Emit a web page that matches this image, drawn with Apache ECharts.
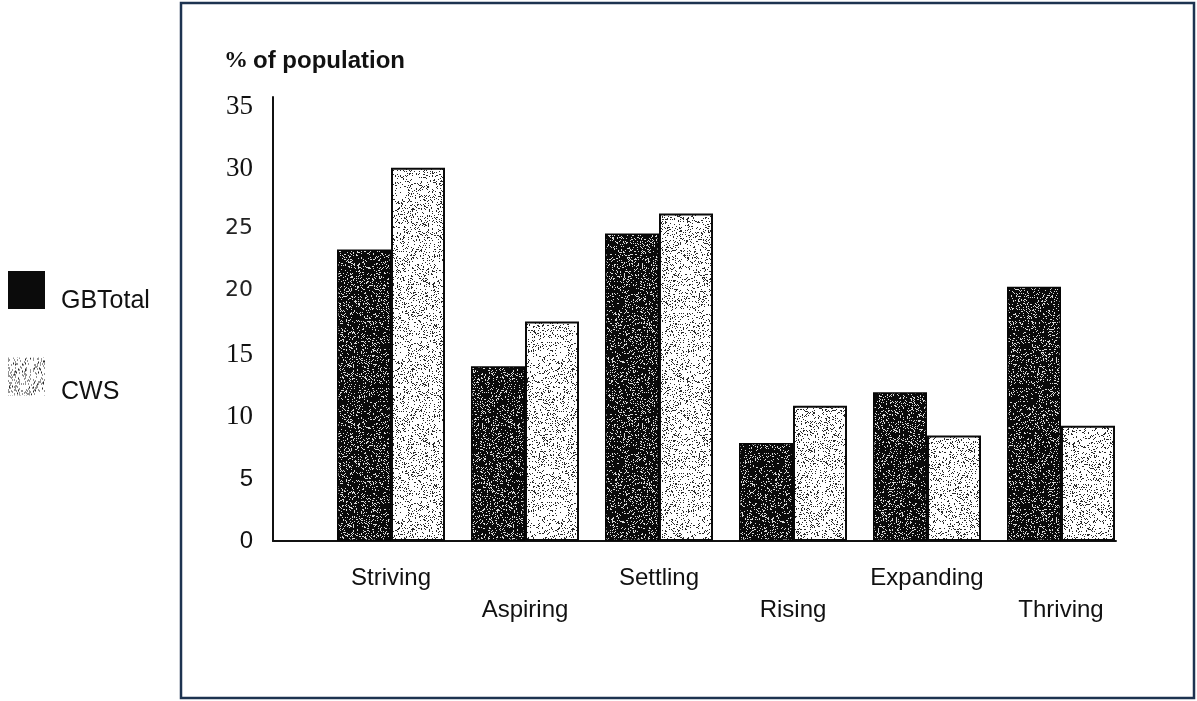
<!DOCTYPE html>
<html>
<head>
<meta charset="utf-8">
<script src="https://cdn.jsdelivr.net/npm/echarts@6/dist/echarts.min.js"></script>
<style>
  html, body { margin: 0; padding: 0; background: #ffffff; }
  #chart { width: 1197px; height: 701px; }
</style>
</head>
<body>
<div id="chart"></div>
<script>
// Population share by group, GB total vs CWS
const categories = ['Striving', 'Aspiring', 'Settling', 'Rising', 'Expanding', 'Thriving'];
const gbTotal = [23.5, 14.1, 24.8, 7.9, 12.0, 20.5];
const cws = [30.1, 17.7, 26.4, 10.9, 8.5, 9.3];
const seriesNames = ['GBTotal', 'CWS'];
const yMax = 35.8;
const yStep = 5;

// Stippled fills drawn on small canvases (deterministic generator)
function makeStipple(bg, dot, density, seed) {
  const c = document.createElement('canvas');
  c.width = 160; c.height = 160;
  const ctx = c.getContext('2d');
  ctx.fillStyle = bg;
  ctx.fillRect(0, 0, c.width, c.height);
  let s = seed;
  const rnd = () => { s = (s * 1103515245 + 12345) & 0x7fffffff; return s / 0x7fffffff; };
  ctx.fillStyle = dot;
  for (let y = 0; y < c.height; y++) {
    for (let x = 0; x < c.width; x++) {
      if (rnd() < density) ctx.fillRect(x, y, 1, 1);
    }
  }
  return c;
}
const darkFill = { image: makeStipple('#0a0a0a', '#d8d8d8', 0.17, 7), repeat: 'repeat' };
const lightFill = { image: makeStipple('#ffffff', '#2a2a2a', 0.16, 19), repeat: 'repeat' };

// Tick labels come in a mix of faces
const tickStyle = {
  '35': 's', '30': 's', '15': 's', '10': 's',
  '25': 'g', '20': 'g', '5': 'n', '0': 'n'
};

const legendFont = { fontFamily: 'Liberation Sans', fontSize: 25, color: '#111' };

const chart = echarts.init(document.getElementById('chart'));
chart.setOption({
  backgroundColor: '#ffffff',
  animation: false,
  title: {
    left: 219, top: 44,
    text: '{p|%} {b|of population}',
    textStyle: {
      rich: {
        p: { fontFamily: 'Liberation Serif', fontSize: 24, color: '#111' },
        b: { fontFamily: 'Liberation Sans', fontSize: 24, fontWeight: 'bold', color: '#111' }
      }
    }
  },
  legend: {
    orient: 'vertical',
    left: 3, top: 266,
    itemWidth: 37, itemHeight: 38,
    itemGap: 44,
    icon: 'rect',
    data: [
      { name: seriesNames[0], itemStyle: { color: '#0b0b0b', borderWidth: 0 } },
      { name: seriesNames[1], itemStyle: { color: lightFill, borderWidth: 0 } }
    ],
    formatter: name => (name === seriesNames[0] ? '{a|' : '{c|') + name + '}',
    textStyle: {
      fontFamily: 'Liberation Sans', fontSize: 25, color: '#111',
      rich: {
        a: Object.assign({ padding: [22, 0, 0, 11] }, legendFont),
        c: Object.assign({ padding: [32, 0, 0, 11] }, legendFont)
      }
    }
  },
  graphic: [{
    type: 'rect',
    shape: { x: 181, y: 3, width: 1013, height: 695 },
    style: { fill: 'none', stroke: '#1d3350', lineWidth: 2.5 },
    silent: true
  }],
  grid: [
    { left: 273, right: 81, top: 97, bottom: 160 },
    { left: 324, right: 69, top: 97, bottom: 160 }
  ],
  xAxis: [
    {
      gridIndex: 0, type: 'value', min: 0, max: 1,
      axisLine: { show: true, lineStyle: { color: '#111', width: 2 } },
      axisTick: { show: false }, axisLabel: { show: false }, splitLine: { show: false }
    },
    {
      gridIndex: 1, type: 'category', data: categories,
      axisLine: { show: false }, axisTick: { show: false }, splitLine: { show: false },
      axisLabel: {
        interval: 0, margin: 21,
        fontFamily: 'Liberation Sans', fontSize: 24, color: '#111',
        lineHeight: 32, verticalAlign: 'top',
        formatter: (v, i) => (i % 2 ? '\n' + v : v)
      }
    }
  ],
  yAxis: [
    {
      gridIndex: 0, type: 'value', min: 0, max: yMax, interval: yStep,
      axisLine: { show: true, lineStyle: { color: '#111', width: 2 } },
      axisTick: { show: false }, splitLine: { show: false },
      axisLabel: {
        showMaxLabel: false, margin: 20, color: '#111',
        formatter: v => '{' + (tickStyle[String(v)] || 'n') + '|' + v + '}',
        rich: {
          s: { fontFamily: 'Liberation Serif', fontSize: 27, color: '#111' },
          g: { fontFamily: 'DejaVu Sans', fontSize: 22, color: '#222', padding: [0, 0, 6, 0] },
          n: { fontFamily: 'Liberation Sans', fontSize: 24, color: '#111' }
        }
      }
    },
    {
      gridIndex: 1, type: 'value', min: 0, max: yMax, interval: yStep, show: false
    }
  ],
  series: [
    {
      name: seriesNames[0], type: 'bar', xAxisIndex: 1, yAxisIndex: 1,
      data: gbTotal, barWidth: 54, barGap: '0%',
      itemStyle: { color: darkFill, borderColor: '#050505', borderWidth: 1.5 }
    },
    {
      name: seriesNames[1], type: 'bar', xAxisIndex: 1, yAxisIndex: 1,
      data: cws, barWidth: 54, barGap: '0%',
      itemStyle: { color: lightFill, borderColor: '#0a0a0a', borderWidth: 2 }
    }
  ]
});
</script>
</body>
</html>
